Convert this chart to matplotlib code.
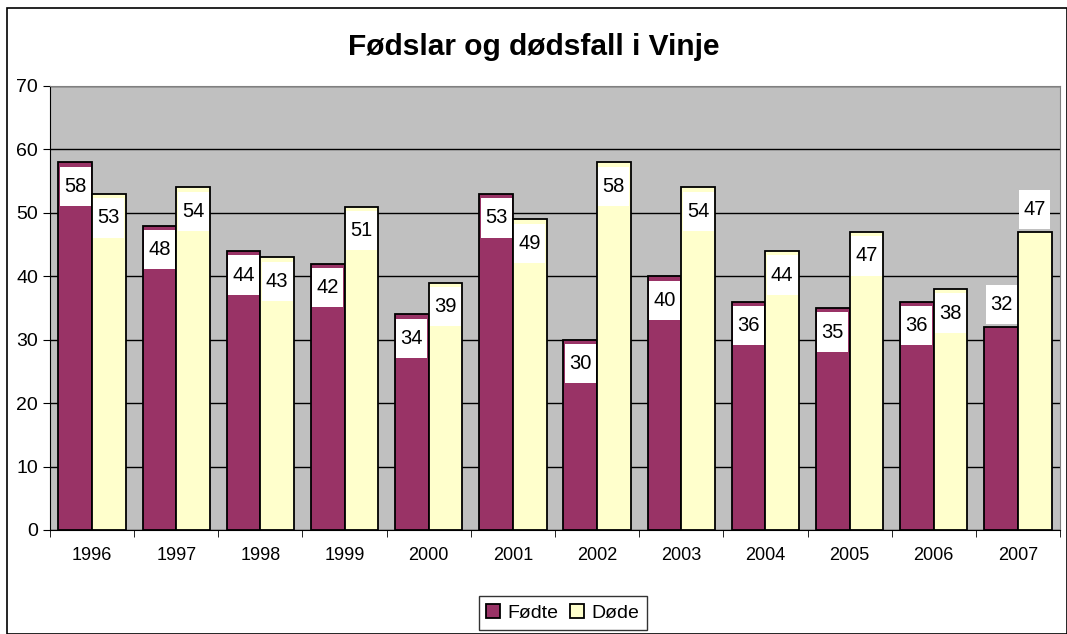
import matplotlib.pyplot as plt
import numpy as np

years = ['1996', '1997', '1998', '1999', '2000', '2001', '2002', '2003', '2004', '2005', '2006', '2007']
fodte = [58, 48, 44, 42, 34, 53, 30, 40, 36, 35, 36, 32]
dode = [53, 54, 43, 51, 39, 49, 58, 54, 44, 47, 38, 47]

plt.rcParams['font.family'] = ['Liberation Sans', 'DejaVu Sans']

fig = plt.figure(figsize=(10.67, 6.34), dpi=100)
ax = fig.add_axes([50 / 1067, 1 - 530 / 634, 1010 / 1067, 444 / 634])

# outer chart border
fig.patches.append(plt.Rectangle((7 / 1067, 0), 1 - 7 / 1067, 1 - 8 / 634, transform=fig.transFigure,
                                 fill=False, edgecolor='black', linewidth=1.2))

x = np.arange(len(years))
w = 0.4
b1 = ax.bar(x - w / 2, fodte, w, color='#993366', edgecolor='black', linewidth=1.3, label='Fødte', zorder=3)
b2 = ax.bar(x + w / 2, dode, w, color='#FFFFCC', edgecolor='black', linewidth=1.3, label='Døde', zorder=3)

# value labels in white boxes (inside the bar top, above for the last year)
bw, bh = 0.37, 6.2
for i in range(len(years)):
    for xi, v in ((x[i] - w / 2, fodte[i]), (x[i] + w / 2, dode[i])):
        cy = v + 3.5 if i == len(years) - 1 else v - 3.8
        ax.add_patch(plt.Rectangle((xi - bw / 2, cy - bh / 2), bw, bh, facecolor='white',
                                   edgecolor='none', zorder=4))
        ax.text(xi, cy, str(v), ha='center', va='center', fontsize=14.5, zorder=5)

ax.set_facecolor('#C0C0C0')
ax.set_xlim(-0.5, len(years) - 0.5)
ax.set_ylim(0, 70)
ax.set_yticks(range(0, 71, 10))
ax.yaxis.grid(True, color='black', linewidth=1, zorder=1)
ax.set_xticks(x)
ax.set_xticklabels(years, fontsize=13)
ax.set_xticks(np.arange(-0.5, len(years), 1), minor=True)
ax.tick_params(axis='x', which='major', length=0, pad=12)
ax.tick_params(axis='x', which='minor', length=5, direction='out')
ax.tick_params(axis='y', labelsize=14, length=5, direction='out')
for s in ('top', 'right'):
    ax.spines[s].set_color('#808080')
ax.spines['left'].set_color('black')
ax.spines['bottom'].set_color('black')

fig.text(0.5, 1 - 47 / 634, 'Fødslar og dødsfall i Vinje', ha='center', va='center',
         fontsize=21.5, fontweight='bold')

leg = fig.legend(handles=[b1, b2], loc='center', bbox_to_anchor=(563 / 1067, 1 - 613 / 634), ncol=2,
                 fontsize=14, frameon=True, fancybox=False, edgecolor='black', handlelength=0.7,
                 handleheight=0.7, handletextpad=0.4, columnspacing=0.6, borderpad=0.4)
leg.get_frame().set_linewidth(1)

plt.savefig('out.png', dpi=100)
